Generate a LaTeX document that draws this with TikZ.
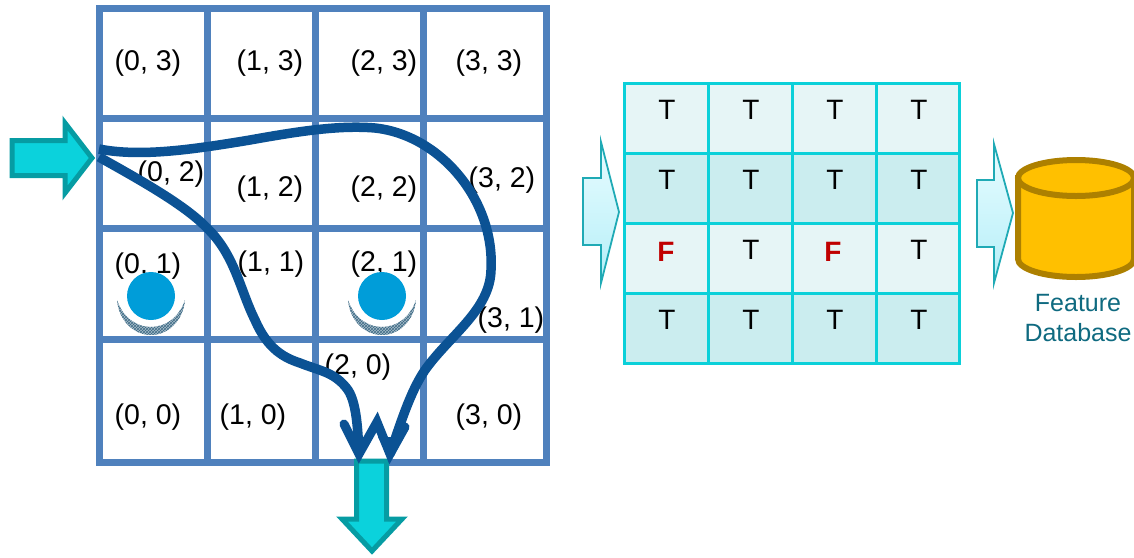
\documentclass[tikz,border=0pt]{standalone}
\usepackage{fontspec}
\setmainfont{Liberation Sans}
\usetikzlibrary{patterns}
\definecolor{gridblue}{HTML}{4F81BD}
\definecolor{routeblue}{HTML}{0B5294}
\definecolor{arrowfill}{HTML}{0BD2DC}
\definecolor{arrowline}{HTML}{069CA3}
\definecolor{tabline}{HTML}{0BD0D9}
\definecolor{rowlight}{HTML}{E6F5F6}
\definecolor{rowdark}{HTML}{CBEDEF}
\definecolor{dotblue}{HTML}{009DD9}
\definecolor{shadeblue}{HTML}{3E6C86}
\definecolor{shadefill}{HTML}{A9BDCA}
\definecolor{dbfill}{HTML}{FFC000}
\definecolor{dbline}{HTML}{AD8000}
\definecolor{dbtext}{HTML}{0F6A80}
\definecolor{redF}{HTML}{C00000}
\definecolor{bigline}{HTML}{1FAAB5}
\definecolor{bigtop}{HTML}{E8FCFF}
\definecolor{bigbot}{HTML}{B5EFF8}
\tikzset{
  gridline/.style={draw=gridblue,line width=7pt,line cap=rect},
  celltext/.style={inner sep=0pt,font=\fontsize{28.5}{28.5}\selectfont},
  tabtext/.style={inner sep=0pt,font=\fontsize{28}{28}\selectfont},
  falsetext/.style={inner sep=0pt,text=redF,font=\fontsize{28}{28}\selectfont\bfseries},
  dbtextstyle/.style={inner sep=0pt,text=dbtext,font=\fontsize{25}{30}\selectfont,align=center},
  flowarrow/.style={draw=arrowline,fill=arrowfill,line width=5pt,miter limit=10},
  bigarrow/.style={draw=bigline,line width=1.8pt,top color=bigtop,bottom color=bigbot,miter limit=10},
  route/.style={draw=routeblue,line width=9.5pt},
  barb/.style={draw=routeblue,line width=9pt,line cap=round},
  tabgrid/.style={draw=tabline,line width=3pt,line cap=rect},
  crescentbase/.style={fill=shadefill},
  crescent/.style={pattern=crosshatch,pattern color=shadeblue},
  dot/.style={circle,fill=dotblue,minimum size=48pt,inner sep=0pt},
  dbbody/.style={draw=dbline,fill=dbfill,line width=6pt},
}
\newcommand{\crescentpath}[1]{(#1-34,300) .. controls (#1-32,322) and (#1-16,335) .. (#1,335)
     .. controls (#1+16,335) and (#1+32,322) .. (#1+34,300)
     .. controls (#1+28,318) and (#1+14,327) .. (#1,327)
     .. controls (#1-14,327) and (#1-28,318) .. (#1-34,300) -- cycle}
\begin{document}
\begin{tikzpicture}[x=1pt,y=-1pt]
\useasboundingbox (0,0) rectangle (1134,557);
\clip (0,0) rectangle (1134,557);
% labels of the grid
\node[celltext] (c03) at (148,63) {(0, 3)};
\node[celltext] (c13) at (270,63) {(1, 3)};
\node[celltext] (c23) at (384,63) {(2, 3)};
\node[celltext] (c33) at (489,63) {(3, 3)};
\node[celltext] (c02) at (171,174) {(0, 2)};
\node[celltext] (c12) at (270,189) {(1, 2)};
\node[celltext] (c22) at (384,189) {(2, 2)};
\node[celltext] (c32) at (502,180) {(3, 2)};
\node[celltext] (c01) at (148,266) {(0, 1)};
\node[celltext] (c11) at (271,264) {(1, 1)};
\node[celltext] (c21) at (384,264) {(2, 1)};
\node[celltext] (c31) at (511,320) {(3, 1)};
\node[celltext] (c00) at (148,417) {(0, 0)};
\node[celltext] (c10) at (253,417) {(1, 0)};
\node[celltext] (c20) at (358,367) {(2, 0)};
\node[celltext] (c30) at (489,417) {(3, 0)};
% grid
\foreach \x in {99,207,315,423,546} \draw[gridline] (\x,8) -- (\x,462);
\foreach \y in {8,118,228,339,462} \draw[gridline] (99,\y) -- (546,\y);
% obstacles
\foreach \cx/\n in {151/a,382/b}{
  \path[crescentbase] \crescentpath{\cx};
  \path[crescent] \crescentpath{\cx};
  \node[dot] (dot\n) at (\cx,296) {};
}
% entry and exit arrows
\draw[flowarrow] (12,140.5) -- (65,140.5) -- (65,123) -- (92,158) -- (65,193) -- (65,175.5) -- (12,175.5) -- cycle;
\draw[flowarrow] (356.5,461) -- (386.5,461) -- (386.5,519) -- (402,519) -- (372,551) -- (342,519) -- (356.5,519) -- cycle;
\coordinate (inA) at (99,149);
\coordinate (inB) at (99,157);
\coordinate (outA) at (359,454);
\coordinate (outB) at (390,454);
\coordinate (barbL) at (344,424);
\coordinate (barbM) at (377,422);
\coordinate (barbR) at (405,427);
% routes
\draw[route] (inA) .. controls (140,157) and (190,150) .. (250,140)
  .. controls (300,131) and (340,125) .. (375,128)
  .. controls (440,135) and (495,200) .. (491,270)
  .. controls (490,310) and (450,335) .. (425,370)
  .. controls (410,392) and (400,425) .. (outB);
\draw[route] (inB) .. controls (140,180) and (185,205) .. (207,228)
  .. controls (235,255) and (240,290) .. (255,320)
  .. controls (268,350) and (285,358) .. (300,363)
  .. controls (320,371) and (335,372) .. (348,390)
  .. controls (358,405) and (358,440) .. (outA);
\draw[barb] (barbL) -- (outA) -- (barbM) -- (outB) -- (barbR);
\fill[routeblue] (outA) ++(0,7) -- ++(-12,-24) -- ++(24,0) -- cycle;
\fill[routeblue] (outB) ++(0,7) -- ++(-12,-24) -- ++(24,0) -- cycle;
% arrows to the table and the database
\draw[bigarrow] (583,178) -- (601,178) -- (601,142) -- (619,212) -- (601,283) -- (601,245) -- (583,245) -- cycle;
\draw[bigarrow] (977,180) -- (994,180) -- (994,144) -- (1013,213) -- (994,283) -- (994,247) -- (977,247) -- cycle;
% table
\fill[rowlight] (624,83) rectangle (959,153);
\fill[rowdark] (624,153) rectangle (959,223);
\fill[rowlight] (624,223) rectangle (959,293);
\fill[rowdark] (624,293) rectangle (959,363);
\foreach \x in {624,708,792,876,959} \draw[tabgrid] (\x,83) -- (\x,363);
\foreach \y in {83,153,223,293,363} \draw[tabgrid] (624,\y) -- (959,\y);
\node[tabtext] (t00) at (667,110) {T};
\node[tabtext] (t01) at (751,110) {T};
\node[tabtext] (t02) at (835,110) {T};
\node[tabtext] (t03) at (919,110) {T};
\node[tabtext] (t10) at (667,180) {T};
\node[tabtext] (t11) at (751,180) {T};
\node[tabtext] (t12) at (835,180) {T};
\node[tabtext] (t13) at (919,180) {T};
\node[falsetext] (t20) at (666,252) {F};
\node[tabtext] (t21) at (751,250) {T};
\node[falsetext] (t22) at (833,252) {F};
\node[tabtext] (t23) at (919,250) {T};
\node[tabtext] (t30) at (667,320) {T};
\node[tabtext] (t31) at (751,320) {T};
\node[tabtext] (t32) at (835,320) {T};
\node[tabtext] (t33) at (919,320) {T};
% database
\draw[dbbody] (1018,178) -- (1018,259) arc[start angle=180,end angle=0,x radius=58,y radius=18] -- (1134,178) -- cycle;
\draw[dbbody] (1076,178) ellipse[x radius=58,y radius=18];
\node[dbtextstyle] (dbl) at (1078,318) {Feature\\Database};
\end{tikzpicture}
\end{document}
